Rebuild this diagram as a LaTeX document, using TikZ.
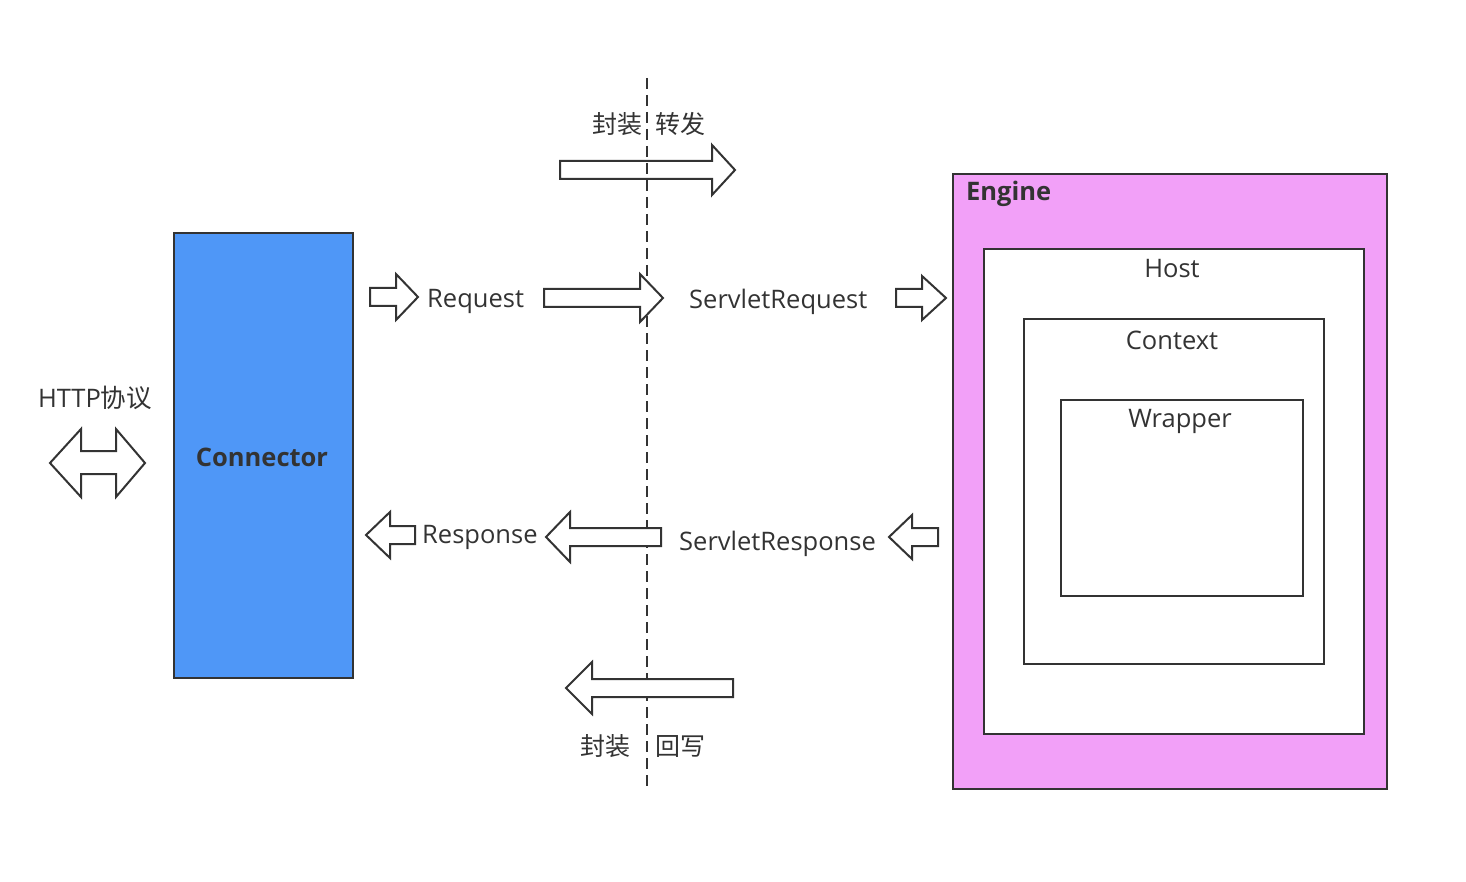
\documentclass[tikz,border=0pt]{standalone}
\usepackage{fontspec}
\setmainfont{Open Sans}
\newfontfamily\cjk{Noto Sans CJK SC}
\definecolor{ink}{HTML}{333333}
\definecolor{connblue}{HTML}{4F97F7}
\definecolor{engpink}{HTML}{F2A0F8}
\newcommand\farrow[6]{%
  \draw[arr] (#1,#4-#5) -- (#2,#4-#5) -- (#2,#4-#6) -- (#3,#4) -- (#2,#4+#6) -- (#2,#4+#5) -- (#1,#4+#5) -- cycle;}
\tikzset{
  arr/.style={draw=ink, line width=2pt, fill=white, line join=miter},
  box/.style={draw=ink, line width=2.2pt, anchor=north west, inner sep=0pt},
  lbl/.style={text=ink, font=\fontsize{25.5}{28}\selectfont, inner sep=0pt},
  clbl/.style={text=ink, font=\cjk\fontsize{25}{28}\selectfont, inner sep=0pt},
}
\begin{document}
\begin{tikzpicture}[x=1pt,y=-1pt]
\useasboundingbox (0,0) rectangle (1466,882);
% top arrow (dashed line drawn over it)
\farrow{560}{712}{735}{170}{9}{25}
% dashed separator
\coordinate (dtop) at (647,78);
\coordinate (dbot) at (647,790);
\draw[ink, line width=2pt, dash pattern=on 11pt off 6pt] (dtop) -- (dbot);
% Connector
\node[box, fill=connblue, minimum width=179pt, minimum height=445pt] (conn) at (173,232) {};
\node[lbl, font=\bfseries\fontsize{25.5}{28}\selectfont] (connlbl) at (262,457) {Connector};
% HTTP
\node[lbl] (http) at (95,398) {HTTP{\cjk 协议}};
\draw[arr] (50,463) -- (81,429) -- (81,451) -- (116,451) -- (116,429) -- (145,463) -- (116,497) -- (116,474) -- (81,474) -- (81,497) -- cycle;
% Engine boxes
\node[box, fill=engpink, minimum width=434pt, minimum height=615pt] (engine) at (952,173) {};
\node[lbl, anchor=west, font=\bfseries\fontsize{25.5}{28}\selectfont] (englbl) at (966,194) {Engine};
\node[box, fill=white, minimum width=380pt, minimum height=485pt] (host) at (983,248) {};
\node[lbl] (hostlbl) at (1172,269) {Host};
\node[box, fill=white, minimum width=300pt, minimum height=345pt] (ctx) at (1023,318) {};
\node[lbl] (ctxlbl) at (1172,340) {Context};
\node[box, fill=white, minimum width=242pt, minimum height=196pt] (wrap) at (1060,399) {};
\node[lbl] (wraplbl) at (1180,421) {Wrapper};
% request row
\farrow{370}{396}{418}{297}{9}{23}
\node[lbl, anchor=west] (req) at (427,301) {Request};
\farrow{544}{640}{663}{298}{9}{24}
\node[lbl, anchor=west] (sreq) at (689,302) {ServletRequest};
\farrow{896}{922}{946}{298}{9}{22}
% response row
\farrow{415}{390}{366}{535}{9}{23}
\node[lbl, anchor=west] (resp) at (422,537) {Response};
\farrow{661}{570}{546}{537}{9}{25}
\node[lbl, anchor=west] (sresp) at (679,544) {ServletResponse};
\farrow{938}{912}{889}{537}{9}{22}
% bottom arrow
\farrow{733}{592}{566}{688}{9}{26}
% CJK labels
\node[clbl] (fz1) at (617,124) {封装};
\node[clbl] (zf) at (680,124) {转发};
\node[clbl] (fz2) at (605,746) {封装};
\node[clbl] (hx) at (680,746) {回写};
\end{tikzpicture}
\end{document}
